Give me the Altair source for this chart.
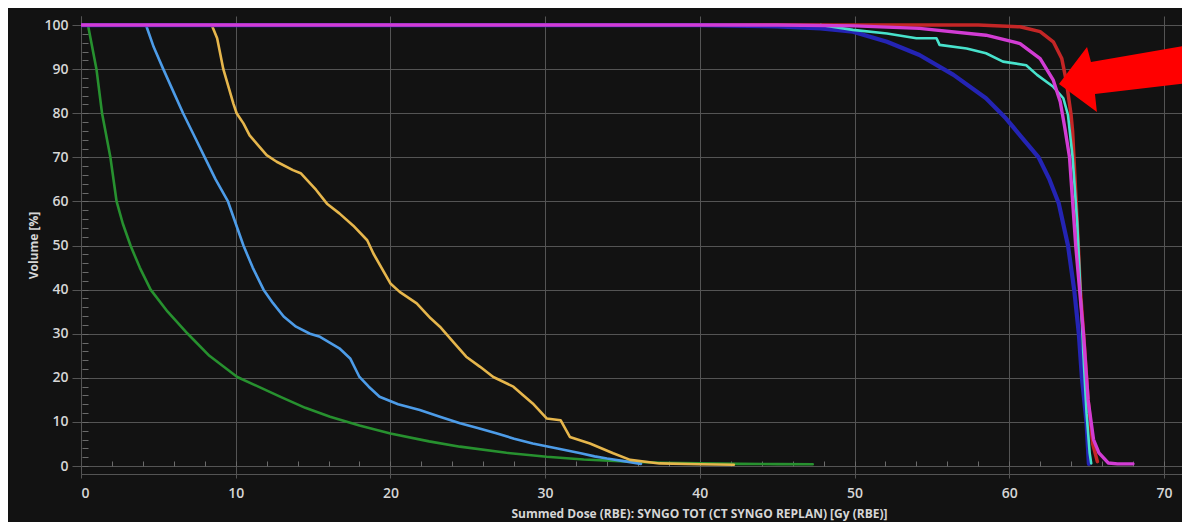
import altair as alt
import pandas as pd

# ---------------- data ----------------
x_ticks = [0, 10, 20, 30, 40, 50, 60, 70]
y_ticks = [0, 10, 20, 30, 40, 50, 60, 70, 80, 90, 100]
x_minor = list(range(0, 72, 2))
y_minor = list(range(0, 102, 2))

green_dose = [0, 0.45, 1.0, 1.36, 1.9, 2.3, 2.7, 3.2, 3.8, 4.5, 5.6, 6.9, 8.3, 10.1, 12.9, 14.5, 16.1, 18, 20.0, 22.5, 24.5, 27.5, 30.1, 32.5, 35.5, 37.5, 40, 42.5, 45, 47.3]
green_vol = [100, 100, 90, 80, 70, 60, 55, 50, 45, 40, 35, 30, 25, 20.2, 15.7, 13.2, 11.2, 9.2, 7.4, 5.6, 4.4, 3.0, 2.1, 1.5, 1.0, 0.75, 0.6, 0.5, 0.45, 0.4]

lblue_dose = [4.2, 4.7, 5.32, 5.97, 6.6, 7.3, 8.0, 8.7, 9.5, 10.0, 10.5, 11.1, 11.8, 12.4, 13.1, 13.9, 14.8, 15.45, 16.7, 17.4, 18.0, 18.6, 19.3, 20.5, 21.9, 23.2, 24.5, 25.7, 26.9, 28.0, 29.2, 30.8, 32.3, 33.2, 34.0, 35.3, 36.2]
lblue_vol = [100, 95, 90, 84.9, 80, 75, 70, 65, 60, 55, 50, 45, 40, 37, 33.9, 31.6, 30, 29.3, 26.7, 24.4, 20.2, 18, 15.7, 14, 12.7, 11.2, 9.7, 8.6, 7.4, 6.2, 5.1, 4.0, 2.9, 2.2, 1.7, 1.0, 0.5]

yellow_dose = [8.45, 8.8, 9.2, 9.85, 10.06, 10.5, 10.9, 12.0, 12.65, 13.7, 14.2, 15.2, 15.9, 16.7, 17.6, 18.5, 18.9, 20.0, 20.6, 21.7, 22.6, 23.2, 24.1, 24.9, 25.8, 26.65, 27.95, 28.6, 29.2, 30.1, 31.0, 31.6, 32.9, 34.4, 35.5, 37.4, 40.0, 42.2]
yellow_vol = [100, 97, 90, 82.2, 80, 77.7, 75, 70.5, 69, 67.1, 66.4, 62.6, 59.5, 57.3, 54.5, 51.2, 48.2, 41.4, 39.5, 36.9, 33.5, 31.6, 28, 24.8, 22.5, 20.2, 18.0, 16, 14.2, 10.8, 10.4, 6.6, 5.1, 2.9, 1.4, 0.6, 0.4, 0.3]

red_dose = [0, 58, 60.7, 62.0, 62.85, 63.4, 63.7, 64.0, 64.1, 64.4, 64.6, 64.85, 65.1, 65.4, 65.7]
red_vol = [100, 100, 99.6, 98.5, 96.2, 92.4, 87.1, 79.6, 75.8, 55, 40, 28, 15, 5, 1.0]

dblue_dose = [0, 40, 45, 47.8, 49.9, 52.1, 54.2, 56.4, 58.5, 59.8, 60.7, 61.9, 62.6, 63.2, 63.8, 64.2, 64.5, 64.7, 65.0, 65.15]
dblue_vol = [100, 100, 99.7, 99.25, 98.5, 96.2, 93.2, 88.7, 83.4, 78.8, 75, 70, 65, 59.6, 50, 40, 30, 20, 9.8, 0.5]

magenta_dose = [0, 45, 50, 54.2, 58.5, 60.7, 62.0, 62.85, 63.3, 63.6, 63.9, 64.3, 64.55, 64.8, 65.1, 65.45, 65.8, 66.4, 67.0, 68.0]
magenta_vol = [100, 100, 99.8, 99.25, 97.7, 95.8, 92.4, 87.5, 82.6, 76.6, 70, 50, 40, 30, 15, 6, 3, 0.7, 0.5, 0.5]

cyan_dose = [47.8, 49.9, 52.1, 54.0, 55.3, 55.5, 57.25, 58.5, 59.6, 61.1, 61.8, 62.85, 63.5, 63.8, 64.1, 64.4, 64.6, 64.8, 65.0, 65.2, 65.3]
cyan_vol = [100, 98.9, 98.1, 97.0, 97.0, 95.5, 94.7, 93.6, 91.7, 90.9, 88.7, 86.0, 83.4, 79.6, 70, 55, 40, 25, 12, 3, 0.6]

arrow_dose = [67.42]
arrow_vol = [87.9]

# ---------------- styles ----------------
BG = "#121212"
GRID = "#545454"
TEXT = "#d6d6d6"
FONT = "Open Sans"

series = [
    ("green", green_dose, green_vol, "#27912f", 2.6),
    ("lblue", lblue_dose, lblue_vol, "#4d9ce8", 2.6),
    ("yellow", yellow_dose, yellow_vol, "#e6b64c", 2.6),
    ("red", red_dose, red_vol, "#c42626", 3.5),
    ("dblue", dblue_dose, dblue_vol, "#2424b4", 4.2),
    ("cyan", cyan_dose, cyan_vol, "#48e2cc", 2.6),
    ("magenta", magenta_dose, magenta_vol, "#d23cd4", 3.4),
]

xscale = alt.Scale(domain=[0, 71.17], nice=False, zero=False)
yscale = alt.Scale(domain=[-1.8, 102.05], nice=False, zero=False)

xaxis = alt.Axis(
    values=x_ticks, grid=True, gridColor=GRID, gridWidth=1,
    domain=True, domainColor=GRID, tickColor=GRID, tickSize=4,
    labelColor=TEXT, labelFont=FONT, labelFontSize=14, labelFontWeight=600, labelPadding=8,
    title="Summed Dose (RBE): SYNGO TOT (CT SYNGO REPLAN) [Gy (RBE)]",
    titleColor=TEXT, titleFont=FONT, titleFontSize=12, titleFontWeight="bold",
    titleX=618, titleY=39, titleAlign="center", titleBaseline="middle",
    orient="bottom",
)
yaxis = alt.Axis(
    values=y_ticks, grid=True, gridColor=GRID, gridWidth=1,
    domain=True, domainColor=GRID, tickColor=GRID, tickSize=9,
    labelColor=TEXT, labelFont=FONT, labelFontSize=14, labelFontWeight=600, labelPadding=4,
    title="Volume [%]",
    titleColor=TEXT, titleFont=FONT, titleFontSize=12, titleFontWeight="bold",
    titleX=-48, titleY=229, titleAngle=270, titleAlign="center", titleBaseline="middle",
    orient="left",
)

layers = []
for name, d, v, col, w in series:
    df = pd.DataFrame({"dose": d, "vol": v, "i": list(range(len(d)))})
    layers.append(
        alt.Chart(df).mark_line(color=col, strokeWidth=w, clip=True,
                                strokeJoin="round", strokeCap="round").encode(
            x=alt.X("dose:Q", scale=xscale, axis=xaxis),
            y=alt.Y("vol:Q", scale=yscale, axis=yaxis),
            order="i:Q",
        )
    )

ARROW = "M -0.985 0.083 L -0.56 -0.477 L -0.5 -0.25 L 1 -0.508 L 1 0.068 L -0.44 0.235 L -0.41 0.508 Z"
arrow_df = pd.DataFrame({"dose": arrow_dose, "vol": arrow_vol})
layers.append(
    alt.Chart(arrow_df).mark_point(shape=ARROW, filled=True, fill="#ff0000",
                                   strokeWidth=0, size=17424, opacity=1).encode(
        x=alt.X("dose:Q", scale=xscale, axis=xaxis),
        y=alt.Y("vol:Q", scale=yscale, axis=yaxis),
    )
)

main = alt.layer(*layers)

minor_df = pd.DataFrame({"dose": green_dose, "vol": green_vol})
minor = alt.Chart(minor_df).mark_point(opacity=0).encode(
    x=alt.X("dose:Q", scale=xscale, axis=alt.Axis(
        orient="bottom", values=x_minor, labels=False, grid=False, domain=False,
        tickColor="#6a6a6a", tickSize=5, offset=-13, title=None)),
    y=alt.Y("vol:Q", scale=yscale, axis=alt.Axis(
        orient="left", values=y_minor, labels=False, grid=False, domain=False,
        tickColor="#6a6a6a", tickSize=6, offset=-7, title=None)),
)

chart = alt.layer(main, minor).resolve_axis(x="independent", y="independent").properties(
    width=1101, height=458,
    padding={"left": 73, "top": 8, "right": 0, "bottom": 48},
    autosize="none",
    background=BG,
).configure_view(stroke=None)

chart.save("out.html", embed_options={"renderer": "svg", "actions": False})
